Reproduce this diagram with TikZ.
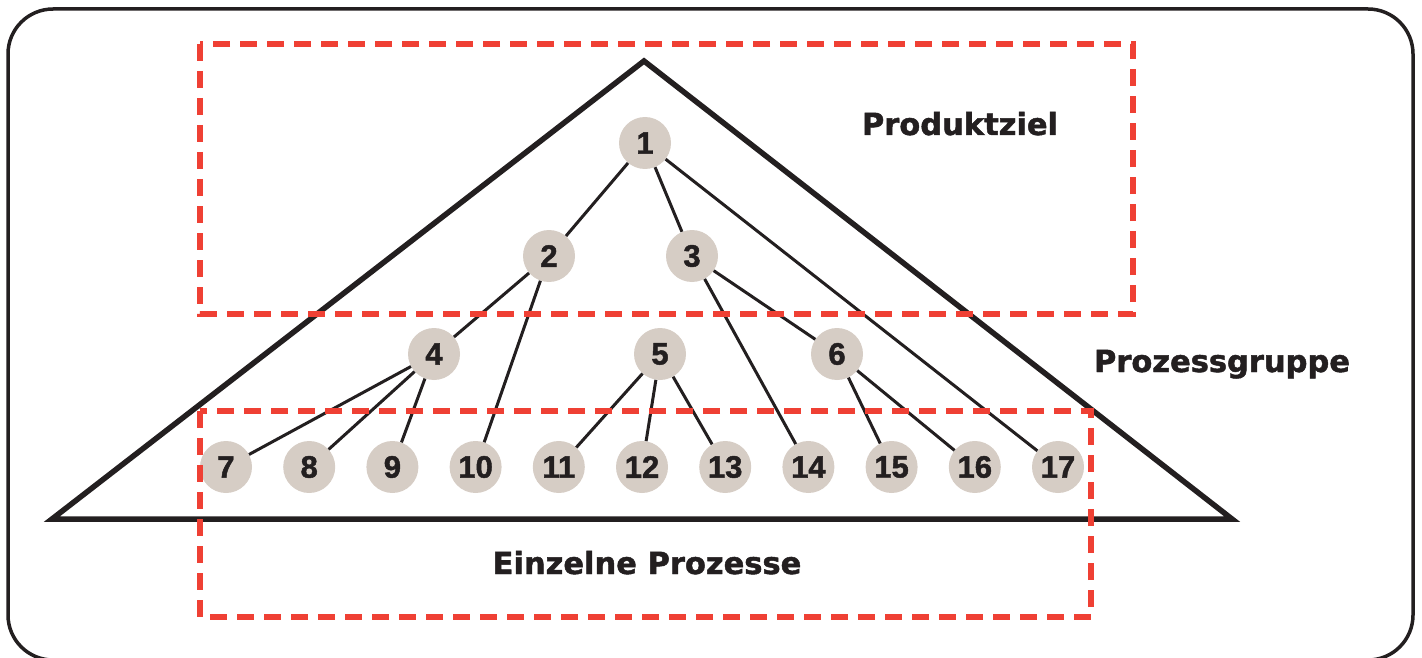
\documentclass[tikz,border=0pt]{standalone}
\usepackage{fontspec}
\setmainfont{Liberation Sans}[BoldFeatures={FakeBold=1.5}]
\newfontfamily\labelfont{DejaVu Sans}[BoldFeatures={FakeBold=1.5}]
\usepackage{xcolor}
\definecolor{nodefill}{RGB}{214,205,197}
\definecolor{boxred}{RGB}{239,64,52}
\definecolor{inkcol}{RGB}{35,31,32}
\tikzset{
  proc/.style={circle,fill=nodefill,minimum size=52pt,inner sep=0pt,text=inkcol,
    font=\fontsize{31}{31}\selectfont\bfseries},
  link/.style={draw=inkcol,line width=3pt},
  zone/.style={draw=boxred,line width=5.5pt,dash pattern=on 17pt off 10pt},
  caption/.style={anchor=base,text=inkcol,font=\labelfont\bfseries\fontsize{30.5}{30.5}\selectfont}
}
\begin{document}
\begin{tikzpicture}[x=1pt,y=-1pt,line join=miter]
\useasboundingbox (0,0) rectangle (1422,658);
%%
  % Frame
  \draw [draw=inkcol,line width=3.5pt,rounded corners=45pt] (8,9) rectangle (1413,660);
  % Pyramid
  \draw [draw=inkcol,line width=5.5pt] (644,61) -- (52,519) -- (1232,519) -- cycle;
%%
  % Node: n1
  \node [proc] (n1) at (645,143) {1};
  % Node: n2
  \node [proc] (n2) at (549,256) {2};
  % Node: n3
  \node [proc] (n3) at (692,256) {3};
  % Node: n4
  \node [proc] (n4) at (434,354) {4};
  % Node: n5
  \node [proc] (n5) at (660,354) {5};
  % Node: n6
  \node [proc] (n6) at (837,354) {6};
  % Node: n7
  \node [proc] (n7) at (226,467) {7};
  % Node: n8
  \node [proc] (n8) at (309.2,467) {8};
  % Node: n9
  \node [proc] (n9) at (392.4,467) {9};
  % Node: n10
  \node [proc] (n10) at (475.6,467) {10};
  % Node: n11
  \node [proc] (n11) at (558.8,467) {11};
  % Node: n12
  \node [proc] (n12) at (642,467) {12};
  % Node: n13
  \node [proc] (n13) at (725.2,467) {13};
  % Node: n14
  \node [proc] (n14) at (808.4,467) {14};
  % Node: n15
  \node [proc] (n15) at (891.6,467) {15};
  % Node: n16
  \node [proc] (n16) at (974.8,467) {16};
  % Node: n17
  \node [proc] (n17) at (1058,467) {17};
%%
  % Edge: n1 -> n2
  \draw [link] (n1) -- (n2);
  % Edge: n1 -> n3
  \draw [link] (n1) -- (n3);
  % Edge: n1 -> n17
  \draw [link] (n1) -- (n17);
  % Edge: n2 -> n4
  \draw [link] (n2) -- (n4);
  % Edge: n2 -> n10
  \draw [link] (n2) -- (n10);
  % Edge: n3 -> n6
  \draw [link] (n3) -- (n6);
  % Edge: n3 -> n14
  \draw [link] (n3) -- (n14);
  % Edge: n4 -> n7
  \draw [link] (n4) -- (n7);
  % Edge: n4 -> n8
  \draw [link] (n4) -- (n8);
  % Edge: n4 -> n9
  \draw [link] (n4) -- (n9);
  % Edge: n5 -> n11
  \draw [link] (n5) -- (n11);
  % Edge: n5 -> n12
  \draw [link] (n5) -- (n12);
  % Edge: n5 -> n13
  \draw [link] (n5) -- (n13);
  % Edge: n6 -> n15
  \draw [link] (n6) -- (n15);
  % Edge: n6 -> n16
  \draw [link] (n6) -- (n16);
%%
  % Labels
  \node [caption] (ziel) at (960,135) {Produktziel};
  \node [caption] (gruppe) at (1222,372) {Prozessgruppe};
  \node [caption] (einzeln) at (647,574) {Einzelne Prozesse};
  % Zones
  \draw [zone] (200,44) rectangle (1133,314);
  \draw [zone] (200,411) rectangle (1091,617);
%
\end{tikzpicture}
\end{document}
